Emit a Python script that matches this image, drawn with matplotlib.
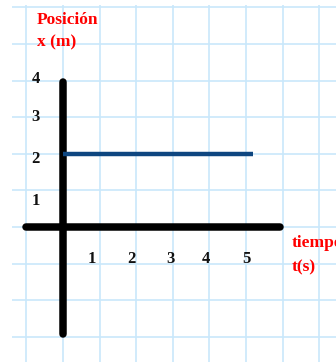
import matplotlib
matplotlib.use("Agg")
import matplotlib.pyplot as plt

# data
t_vals = [0, 5.2]
x_vals = [2, 2]
y_tick_labels = ["1", "2", "3", "4"]
x_tick_labels = ["1", "2", "3", "4", "5"]

# label placement (data units)
y_label_pos = [0.71, 1.86, 3.0, 4.04]
x_label_pos = [0.79, 1.86, 2.95, 3.91, 5.0]

W, H = 336, 362
unit = 36.6
ox, oy = 63, 227

fig = plt.figure(figsize=(W / 100, H / 100), dpi=100)
ax = fig.add_axes([0, 0, 1, 1])
ax.set_xlim(-ox / unit, (W - ox) / unit)
ax.set_ylim(-(H - oy) / unit, oy / unit)
ax.axis("off")

grid_c = "#c9e8fb"
top = (oy - 5) / unit
left = (12 - ox) / unit
for gx in range(-1, 8):
    ax.plot([gx, gx], [top, -10], color=grid_c, lw=1.2, zorder=1, solid_capstyle="butt")
for gy in range(-3, 7):
    ax.plot([left, 10], [gy, gy], color=grid_c, lw=1.2, zorder=1, solid_capstyle="butt")

# axes (thick black)
ax.plot([0, 0], [3.95, -2.92], color="black", lw=5.4, solid_capstyle="round", zorder=3)
ax.plot([-1.02, 5.92], [0, 0], color="black", lw=5.4, solid_capstyle="round", zorder=3)

# data line
ax.plot(t_vals, x_vals, color="#0e4680", lw=3.2, solid_capstyle="butt", zorder=4)

font = dict(family="Liberation Serif", weight="bold")
for lab, p in zip(y_tick_labels, y_label_pos):
    ax.text(-0.74, p, lab, ha="center", va="center", fontsize=12, color="#111111", **font)
for lab, p in zip(x_tick_labels, x_label_pos):
    ax.text(p, -0.87, lab, ha="center", va="center", fontsize=12, color="#111111", **font)

red = "#ff0000"
ax.text((37 - ox) / unit, (oy - 20) / unit, "Posición", ha="left", va="center", fontsize=12.5, color=red, **font)
ax.text((37 - ox) / unit, (oy - 42) / unit, "x (m)", ha="left", va="center", fontsize=12.5, color=red, **font)
ax.text((292 - ox) / unit, (oy - 243) / unit, "tiempo", ha="left", va="center", fontsize=12.5, color=red, **font)
ax.text((292 - ox) / unit, (oy - 267) / unit, "t(s)", ha="left", va="center", fontsize=12.5, color=red, **font)

fig.savefig("out.png", dpi=100)
